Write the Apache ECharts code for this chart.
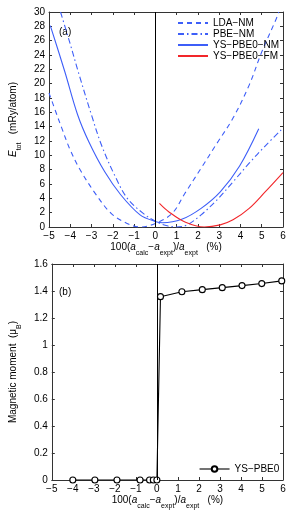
<!DOCTYPE html>
<html>
<head>
<meta charset="utf-8">
<script src="https://cdn.jsdelivr.net/npm/echarts@6/dist/echarts.min.js"></script>
<style>html,body{margin:0;padding:0;background:#fff}#c{width:291px;height:511px}</style>
</head>
<body>
<div id="c"></div>
<script>
// ---- data ----
const ldaX  = [-5.0, -4.6, -4.4, -4.04, -3.58, -2.83, -2.08, -1.33, -0.72, 0.0, 0.79, 1.39, 2.15, 2.9, 3.65, 4.41, 5.01, 5.69, 5.8];
const ldaY  = [18.7, 15.4, 13.8, 11.0, 8.2, 4.7, 1.9, 0.5, 0.0, 0.5, 1.9, 4.7, 8.2, 11.7, 15.2, 19.8, 24.5, 29.1, 30.0];
const pbeX  = [-4.46, -4.04, -3.58, -3.0, -2.53, -1.92, -1.32, -0.57, 0.0, 0.5, 1.0, 1.5, 2.15, 2.9, 3.65, 4.41, 5.16, 6.0];
const pbeY  = [30.0, 25.9, 21.2, 15.6, 11.4, 7.25, 4.0, 1.9, 0.8, 0.2, 0.0, 0.3, 1.7, 3.8, 6.3, 8.9, 11.3, 13.8];
const nmX   = [-4.94, -4.26, -3.66, -3.13, -2.38, -1.63, -0.72, 0.03, 0.34, 1.24, 2.15, 3.05, 3.96, 4.86];
const nmY   = [28.1, 21.7, 15.7, 11.9, 7.7, 4.5, 1.7, 0.74, 0.6, 1.07, 2.6, 4.9, 8.5, 13.7];
const fmX   = [0.19, 0.64, 1.39, 2.3, 3.05, 3.65, 4.41, 5.16, 6.0];
const fmY   = [3.3, 2.1, 0.7, 0.0, 0.3, 1.0, 2.6, 4.9, 7.6];
const momX  = [-4.0, -2.95, -1.9, -0.8, -0.35, -0.17, 0.0, 0.17, 1.19, 2.16, 3.11, 4.05, 4.99, 5.94];
const momY  = [0, 0, 0, 0, 0, 0, 0, 1.358, 1.395, 1.41, 1.425, 1.44, 1.455, 1.475];
const seriesNames = ['LDA\u2212NM', 'PBE\u2212NM', 'YS\u2212PBE0\u2212NM', 'YS\u2212PBE0\u2212FM'];
const momName = 'YS\u2212PBE0';
const xTicks = {min: -5, max: 6, interval: 1};
const eTicks = {min: 0, max: 30, interval: 2};
const mTicks = {min: 0, max: 1.6, interval: 0.2};

const zip = (a, b) => a.map((v, i) => [v, b[i]]);
const FONT = 'Liberation Sans';
const BLUE = '#3d5ef8';
const RED = '#f2262a';
const AX = '#333';

const xName = '{n|100(}{i|a}{s|calc}{n|\u2212}{i|a}{s|expt}{n|)/}{i|a}{s|expt}{n|   (%)}';
const rich = {
  n: {fontSize: 10, fontFamily: FONT, color: '#000', lineHeight: 14},
  i: {fontSize: 10, fontFamily: FONT, fontStyle: 'italic', color: '#000', lineHeight: 14},
  s: {fontSize: 7, fontFamily: FONT, color: '#000', lineHeight: 7, verticalAlign: 'bottom', padding: [0, 0, -3, 0]}
};

function xAx(grid, bottom) {
  return {
    type: 'value', gridIndex: grid, position: bottom ? 'bottom' : 'top',
    min: xTicks.min, max: xTicks.max, interval: xTicks.interval,
    axisLine: {show: true, onZero: false, lineStyle: {color: AX, width: 1}},
    axisTick: {show: true, inside: true, length: 3, lineStyle: {color: AX}},
    axisLabel: {show: bottom, fontSize: 10, fontFamily: FONT, color: '#000', margin: 4,
      formatter: v => String(v).replace('-', '\u2212')},
    splitLine: {show: false},
    name: bottom ? xName : '', nameLocation: 'middle', nameGap: 13,
    nameTextStyle: {rich: rich}
  };
}
function yAx(grid, left, t, name, gap) {
  return {
    type: 'value', gridIndex: grid, position: left ? 'left' : 'right',
    min: t.min, max: t.max, interval: t.interval,
    axisLine: {show: true, onZero: false, lineStyle: {color: AX, width: 1}},
    axisTick: {show: true, inside: true, length: 3, lineStyle: {color: AX}},
    axisLabel: {show: left, fontSize: 10, fontFamily: FONT, color: '#000', margin: 4},
    splitLine: {show: false},
    name: left ? name : '', nameLocation: 'middle', nameGap: gap || 26, nameRotate: 90,
    nameTextStyle: {rich: rich}
  };
}

const zeroLine = {
  silent: true, symbol: 'none', animation: false,
  label: {show: false},
  lineStyle: {color: '#000', type: 'solid', width: 1},
  data: [{xAxis: 0}]
};

function curve(name, xs, ys, color, type, extra) {
  return Object.assign({
    name: name, type: 'line', xAxisIndex: 0, yAxisIndex: 0,
    data: zip(xs, ys), smooth: 0.35, symbol: 'none', animation: false,
    lineStyle: {color: color, width: 1.1, type: type},
    itemStyle: {color: color}
  }, extra || {});
}

const option = {
  animation: false,
  grid: [
    {left: 40, right: 8, top: 12, height: 215},
    {left: 40, right: 8, top: 264, height: 216}
  ],
  xAxis: [xAx(0, true), xAx(0, false), xAx(1, true), xAx(1, false)],
  yAxis: [
    yAx(0, true, eTicks, '{i|E}{s|tot}{n|   (mRy/atom)}', 28),
    yAx(0, false, eTicks, ''),
    yAx(1, true, mTicks, '{n|Magnetic moment  (\u03bc}{s|B}{n|)}', 29),
    yAx(1, false, mTicks, '')
  ],
  legend: [
    {data: seriesNames, orient: 'vertical', left: 177, top: 18, itemWidth: 30, itemHeight: 10, itemGap: 1,
      itemStyle: {opacity: 0},
      textStyle: {fontSize: 10, fontFamily: FONT, color: '#000'}, padding: 0},
    {data: [momName], left: 199, top: 464, itemWidth: 30, itemHeight: 7, padding: 0,
      lineStyle: {width: 1.1},
      textStyle: {fontSize: 10, fontFamily: FONT, color: '#000'}}
  ],
  graphic: [
    {type: 'text', left: 59, top: 27, style: {text: '(a)', fontSize: 10, fontFamily: FONT, fill: '#000'}},
    {type: 'text', left: 59, top: 287, style: {text: '(b)', fontSize: 10, fontFamily: FONT, fill: '#000'}}
  ],
  series: [
    curve(seriesNames[0], ldaX, ldaY, BLUE, [5, 4]),
    curve(seriesNames[1], pbeX, pbeY, BLUE, [6, 3, 1.5, 3]),
    curve(seriesNames[2], nmX, nmY, BLUE, 'solid'),
    curve(seriesNames[3], fmX, fmY, RED, 'solid', {markLine: zeroLine}),
    {
      name: momName, type: 'line', xAxisIndex: 2, yAxisIndex: 2,
      data: zip(momX, momY), symbol: 'circle', symbolSize: 6, showAllSymbol: true,
      lineStyle: {color: '#000', width: 1.1},
      itemStyle: {color: '#fff', borderColor: '#000', borderWidth: 1.1},
      markLine: zeroLine, animation: false
    }
  ]
};

const chart = echarts.init(document.getElementById('c'), null, {renderer: 'canvas'});
chart.setOption(option);
</script>
</body>
</html>
